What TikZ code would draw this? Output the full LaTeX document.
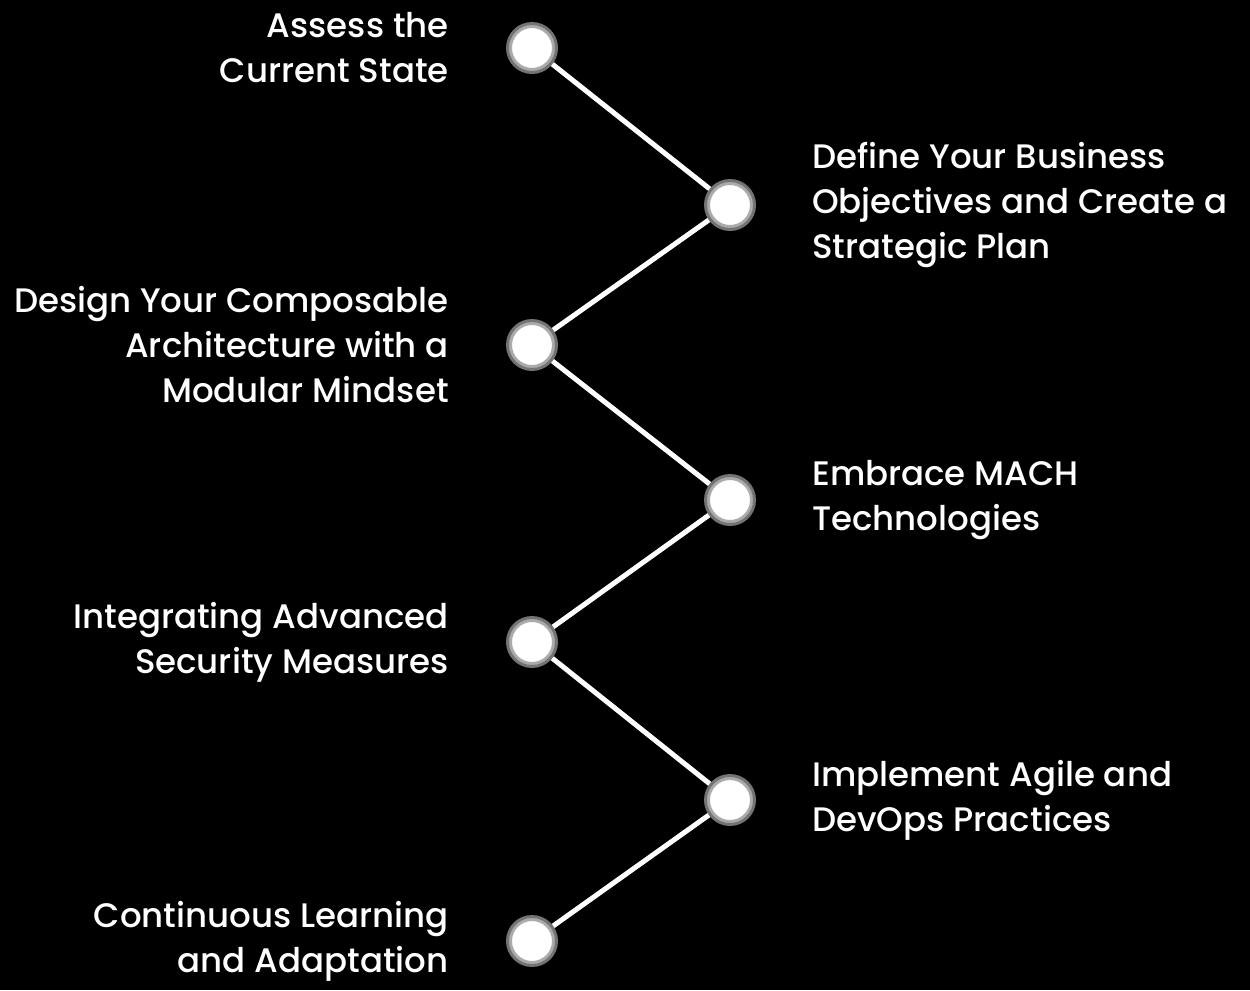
\documentclass[tikz,border=0pt]{standalone}
\usepackage{fontspec}
\setmainfont{Poppins}[UprightFont={* Medium}]
\usepackage{xcolor}
\usepackage{tikz}
\usetikzlibrary{positioning}

\begin{document}
\begin{tikzpicture}[x=0.75pt,y=-0.75pt,
		stepdot/.style={circle,fill=white,draw=black!55,line width=2.25pt,
			minimum size=36.75pt,inner sep=0pt,
			path picture={\draw[black!33,line width=2.4pt]
				(path picture bounding box.center) circle (16.2pt);}},
		leftlbl/.style={text=white,align=right,inner sep=0pt,
			font=\fontsize{25.5}{33.75}\selectfont},
		rightlbl/.style={text=white,align=left,inner sep=0pt,
			font=\fontsize{25.5}{33.75}\selectfont},
		link/.style={white,line width=3.75pt}]
		\fill [black] (0,0) rectangle (1250,990);
		\node [stepdot] (d1) at (532,48) {};
		\node [stepdot] (d2) at (730,205) {};
		\node [stepdot] (d3) at (532,345) {};
		\node [stepdot] (d4) at (730,500) {};
		\node [stepdot] (d5) at (532,642) {};
		\node [stepdot] (d6) at (730,800) {};
		\node [stepdot] (d7) at (532,941) {};
		\draw [link] (d1) -- (d2) -- (d3) -- (d4) -- (d5) -- (d6) -- (d7);
		\node [leftlbl,left=42.75pt of d1] (t1) {Assess the\\Current State};
		\node [rightlbl,right=42pt of d2] (t2) {Define Your Business\\Objectives and Create a\\Strategic Plan};
		\node [leftlbl,left=42.75pt of d3] (t3) {Design Your Composable\\Architecture with a\\Modular Mindset};
		\node [rightlbl,right=42pt of d4] (t4) {Embrace MACH\\Technologies};
		\node [leftlbl,left=42.75pt of d5] (t5) {Integrating Advanced\\Security Measures};
		\node [rightlbl,right=42pt of d6] (t6) {Implement Agile and\\DevOps Practices};
		\node [leftlbl,left=42.75pt of d7] (t7) {Continuous Learning\\and Adaptation};
	\end{tikzpicture}
\end{document}
